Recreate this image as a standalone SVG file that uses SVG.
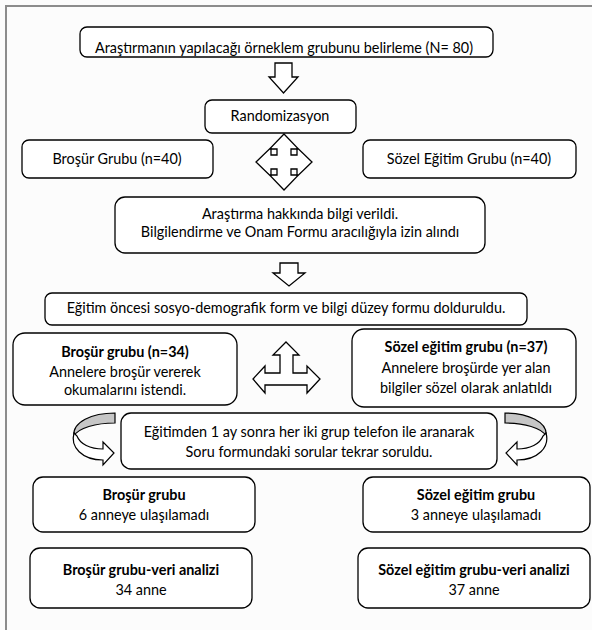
<svg xmlns="http://www.w3.org/2000/svg" width="592" height="630" viewBox="0 0 592 630">
<style>
.box{fill:#fff;stroke:#000;stroke-width:1.3}
.arr{fill:#fff;stroke:#000;stroke-width:1.3;stroke-linejoin:miter}
.t{font-family:Lato,"Open Sans","Liberation Sans",sans-serif;font-size:14.4px;fill:#000;text-anchor:middle}
.b{font-weight:bold}
</style>
<defs>
<g id="curv">
<path d="M115,413 C92,413 72,422 74,436 C78,428 96,423 115,423 Z" fill="#c6c6c6" stroke="#000" stroke-width="1.2"/>
<path d="M74,433 C70,447 82,460 103,460 L103,465 L114,453 L103,442 L103,449 C90,449 80,444 77,436 Z" fill="#fff" stroke="#000" stroke-width="1.2"/>
</g>
</defs>
<rect x="0" y="0" width="592" height="630" fill="#fcfcfc"/>
<rect x="6" y="6" width="620" height="660" fill="none" stroke="#8c8c8c" stroke-width="2"/>

<g id="connectors">
<polygon class="arr" points="275,63 292,63 292,77 298,77 283.5,93 269,77 275,77"/>
<polygon class="arr" points="0,-28 14.5,-13 7,-13 7,-7 13,-7 13,-14.5 28,0 13,14.5 13,7 7,7 7,13 14.5,13 0,28 -14.5,13 -7,13 -7,7 -13,7 -13,14.5 -28,0 -13,-14.5 -13,-7 -7,-7 -7,-13 -14.5,-13" transform="translate(284,162)"/>
<polygon class="arr" points="280,263 298,263 298,273 305,273 289,286 273,273 280,273"/>
<polygon class="arr" points="286,342 299,355 293,355 293,373 307,373 307,366 320,379 307,393 307,385 265,385 265,393 253,379 265,366 265,373 280,373 280,355 273,355"/>
<use href="#curv"/>
<use href="#curv" transform="translate(620,0) scale(-1,1)"/>
</g>

<g id="n1"><rect class="box" x="80" y="27" width="413" height="30" rx="7"/>
<text class="t" x="284" y="53">Araştırmanın yapılacağı örneklem grubunu belirleme (N= 80)</text></g>

<g id="n2"><rect class="box" x="205" y="100" width="151" height="33" rx="7"/>
<text class="t" x="280" y="121">Randomizasyon</text></g>

<g id="n3"><rect class="box" x="22" y="140" width="191" height="38" rx="7"/>
<text class="t" x="117" y="164">Broşür Grubu (n=40)</text></g>

<g id="n4"><rect class="box" x="363" y="140" width="213" height="38" rx="7"/>
<text class="t" x="469" y="164">Sözel Eğitim Grubu (n=40)</text></g>

<g id="n5"><rect class="box" x="115" y="197" width="370" height="56" rx="10"/>
<text class="t" x="300" y="219">Araştırma hakkında bilgi verildi.</text>
<text class="t" x="300" y="237">Bilgilendirme ve Onam Formu aracılığıyla izin alındı</text></g>

<g id="n6"><rect class="box" x="45" y="293" width="482" height="32" rx="7"/>
<text class="t" x="286" y="313">Eğitim öncesi sosyo-demografik form ve bilgi düzey formu dolduruldu.</text></g>

<g id="n7"><rect class="box" x="13" y="333" width="224" height="72" rx="12"/>
<text class="t b" x="125" y="357">Broşür grubu (n=34)</text>
<text class="t" x="125" y="377">Annelere broşür vererek</text>
<text class="t" x="125" y="395">okumalarını istendi.</text></g>

<g id="n8"><rect class="box" x="352" y="329" width="224" height="78" rx="12"/>
<text class="t b" x="466" y="352">Sözel eğitim grubu (n=37)</text>
<text class="t" x="466" y="373">Annelere broşürde yer alan</text>
<text class="t" x="466" y="393">bilgiler sözel olarak anlatıldı</text></g>

<g id="n9"><rect class="box" x="121" y="413" width="376" height="56" rx="10"/>
<text class="t" x="309" y="437">Eğitimden 1 ay sonra her iki grup telefon ile aranarak</text>
<text class="t" x="309" y="457">Soru formundaki sorular tekrar soruldu.</text></g>

<g id="n10"><rect class="box" x="33" y="477" width="222" height="55" rx="10"/>
<text class="t b" x="144" y="500">Broşür grubu</text>
<text class="t" x="144" y="520">6 anneye ulaşılamadı</text></g>

<g id="n11"><rect class="box" x="363" y="477" width="227" height="55" rx="10"/>
<text class="t b" x="476" y="500">Sözel eğitim grubu</text>
<text class="t" x="476" y="520">3 anneye ulaşılamadı</text></g>

<g id="n12"><rect class="box" x="30" y="548" width="222" height="60" rx="10"/>
<text class="t b" x="141" y="575">Broşür grubu-veri analizi</text>
<text class="t" x="141" y="595">34 anne</text></g>

<g id="n13"><rect class="box" x="358" y="548" width="232" height="60" rx="10"/>
<text class="t b" x="474" y="575">Sözel eğitim grubu-veri analizi</text>
<text class="t" x="474" y="595">37 anne</text></g>
</svg>
